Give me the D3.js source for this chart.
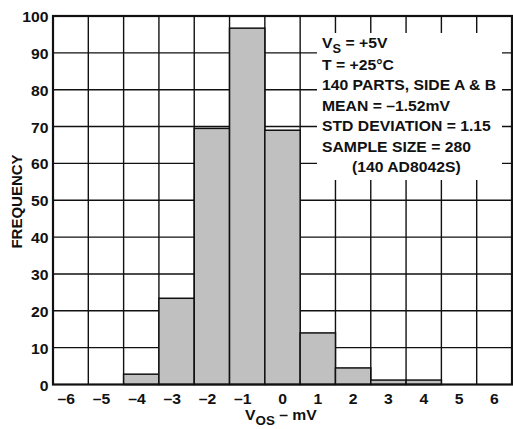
<!DOCTYPE html>
<html><head><meta charset="utf-8">
<script src="https://cdn.jsdelivr.net/npm/d3@7/dist/d3.min.js"></script>
<style>
html,body{margin:0;padding:0;background:#fff;}
svg{display:block;}
text{font-family:"Liberation Sans",Arial,Helvetica,sans-serif;font-weight:bold;fill:#111;}
</style></head>
<body><svg id="c" width="513" height="429"></svg>
<script>
const binCenters = [-6,-5,-4,-3,-2,-1,0,1,2,3,4,5,6];
const frequency  = [0,0,2.8,23.4,69.5,96.7,69.0,14.0,4.5,1.2,1.2,0,0];
const yTicks = [0,10,20,30,40,50,60,70,80,90,100];
const xTickLabels = ["\u20136","\u20135","\u20134","\u20133","\u20132","\u20131","0","1","2","3","4","5","6"];
const notes = ["T = +25\u00B0C","140 PARTS, SIDE A & B","MEAN = \u20131.52mV","STD DEVIATION = 1.15","SAMPLE SIZE = 280"];

const svg = d3.select("#c");
const L=53, R=512, T=16, B=384.5;
const x = d3.scaleLinear().domain([-6.5,6.5]).range([L,R]);
const y = d3.scaleLinear().domain([0,100]).range([B,T]);
const ink = "#111";
const FS = 14.7, SX = 1.07;

// horizontally stretched text helper
function stext(parent, px, py, anchor){
  return parent.append("g").attr("transform",`translate(${px},${py}) scale(${SX},1)`)
    .append("text").attr("x",0).attr("y",0).attr("text-anchor",anchor||"start").style("font-size",FS+"px");
}

// grid
const edges = d3.range(-6.5, 7, 1);
svg.append("g").selectAll("line").data(edges.slice(1,-1)).join("line")
  .attr("x1",d=>x(d)).attr("x2",d=>x(d)).attr("y1",T).attr("y2",B)
  .attr("stroke",ink).attr("stroke-width",1.4);
svg.append("g").selectAll("line").data(yTicks.slice(1,-1)).join("line")
  .attr("x1",L).attr("x2",R).attr("y1",d=>y(d)).attr("y2",d=>y(d))
  .attr("stroke",ink).attr("stroke-width",1.4);

// bars
svg.append("g").selectAll("rect").data(binCenters.map((c,i)=>({c,v:frequency[i]})).filter(d=>d.v>0)).join("rect")
  .attr("x",d=>x(d.c-0.5)).attr("width",d=>x(d.c+0.5)-x(d.c-0.5))
  .attr("y",d=>y(d.v)).attr("height",d=>B-y(d.v))
  .attr("fill","#c0c0c0").attr("stroke",ink).attr("stroke-width",1.5);

// annotation box
svg.append("rect").attr("x",317).attr("y",33).attr("width",185).attr("height",147).attr("fill","#fff");
const v = stext(svg,322,48);
v.append("tspan").text("V");
v.append("tspan").attr("dy",5).style("font-size","12px").text("S");
v.append("tspan").attr("dy",-5).text(" = +5V");
notes.forEach((s,i)=>stext(svg,322,70+i*20.4).text(s));
stext(svg,352,172).text("(140 AD8042S)");

// frame
svg.append("rect").attr("x",L).attr("y",T).attr("width",R-L).attr("height",B-T)
  .attr("fill","none").attr("stroke",ink).attr("stroke-width",2.2);

// y tick labels
yTicks.forEach(d=>stext(svg,48.5,y(d)+6,"end").text(d));

// x tick labels (digit centered on bin)
binCenters.forEach((d,i)=>stext(svg,x(d)+4.4,403.5,"end").text(xTickLabels[i]));

// axis titles
const xt = stext(svg,245,420);
xt.append("tspan").text("V");
xt.append("tspan").attr("dy",4.5).style("font-size","12.5px").text("OS");
xt.append("tspan").attr("dy",-4.5).text(" \u2013 mV");

svg.append("text").attr("transform","translate(21.5,201.5) rotate(-90)")
  .attr("text-anchor","middle").style("font-size","15px").text("FREQUENCY");
</script></body></html>
